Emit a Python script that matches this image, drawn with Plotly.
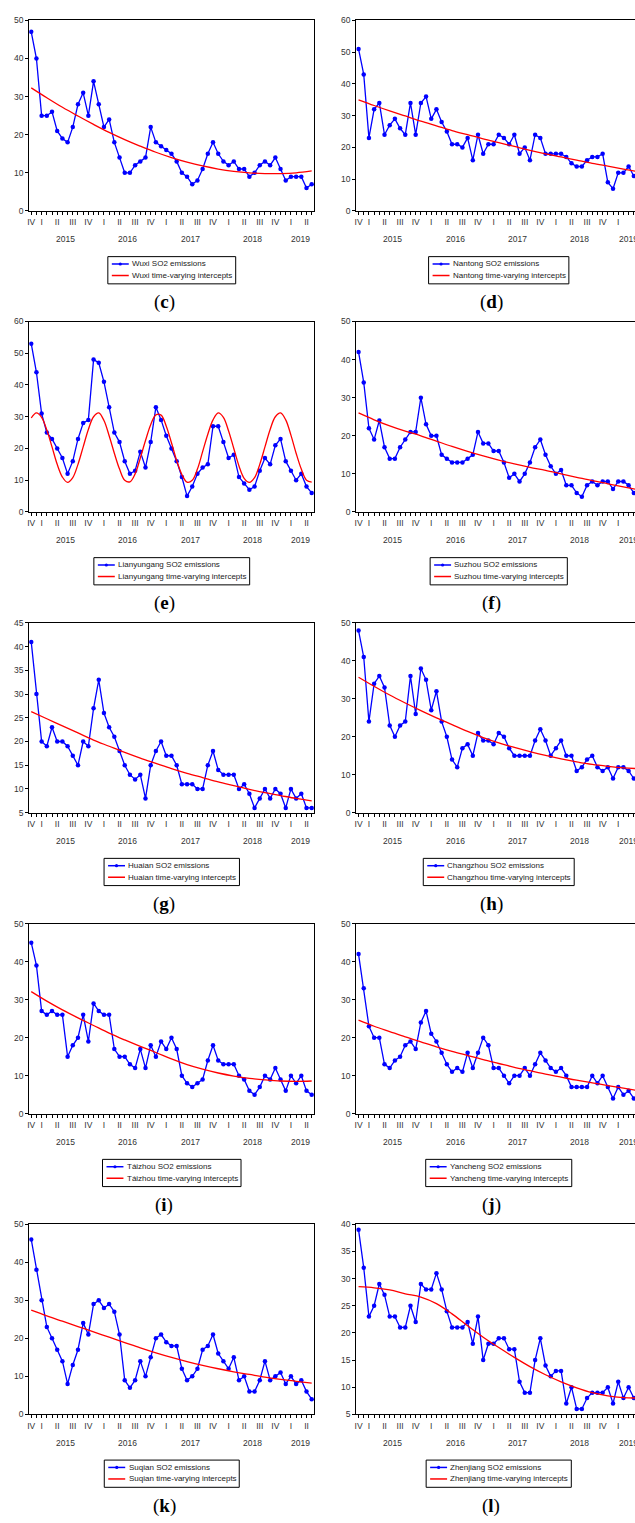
import plotly.graph_objects as go

FIG_W, FIG_H = 635, 1523

# ---------------- data ----------------
months = list(range(55))                 # Nov 2014 ... May 2019 (monthly index)
trend_months = list(range(0, 55, 3))     # points
quarter_pos = [0, 2, 5, 8, 11, 14, 17, 20, 23, 26, 29, 32, 35, 38, 41, 44, 47, 50, 53]
quarter_txt = ["IV", "I", "II", "III", "IV", "I", "II", "III", "IV", "I", "II", "III",
               "IV", "I", "II", "III", "IV", "I", "II"]
year_pos = [6.6, 18.6, 30.6, 42.6, 51.9]
year_txt = ["2015", "2016", "2017", "2018", "2019"]

city_names = ["Wuxi", "Nantong", "Lianyungang", "Suzhou", "Huaian",
              "Changzhou", "Táizhou", "Yancheng", "Suqian", "Zhenjiang"]
panel_letters = ["c", "d", "e", "f", "g", "h", "i", "j", "k", "l"]

wuxi_so2 = [47, 40, 25, 25, 26, 21, 19, 18, 22, 28, 31, 25, 34, 28, 22, 24, 18, 14, 10, 10,
            12, 13, 14, 22, 18, 17, 16, 15, 13, 10, 9, 7, 8, 11, 15, 18, 15, 13, 12, 13,
            11, 11, 9, 10, 12, 13, 12, 14, 11, 8, 9, 9, 9, 6, 7]
wuxi_trend = [32.3, 29.7, 27.2, 24.9, 22.7, 20.6, 18.7, 17.0, 15.4, 14.0, 12.8, 11.8, 11.0,
              10.4, 10.0, 9.8, 9.8, 10.0, 10.5]

nantong_so2 = [51, 43, 23, 32, 34, 24, 27, 29, 26, 24, 34, 24, 34, 36, 29, 32, 28, 25, 21, 21,
               20, 23, 16, 24, 18, 21, 21, 24, 23, 21, 24, 18, 20, 16, 24, 23, 18, 18, 18, 18,
               17, 15, 14, 14, 16, 17, 17, 18, 9, 7, 12, 12, 14, 11]
nantong_trend = [35.0, 33.2, 31.5, 29.9, 28.3, 26.8, 25.3, 24.0, 22.7, 21.5, 20.3, 19.1, 18.0,
                 17.0, 16.0, 15.0, 14.1, 13.2, 12.3]

lianyungang_so2 = [53, 44, 31, 25, 23, 20, 17, 12, 16, 23, 28, 29, 48, 47, 41, 33, 25, 22, 16, 12,
                   13, 19, 14, 22, 33, 29, 24, 20, 16, 11, 5, 8, 12, 14, 15, 27, 27, 22, 17, 18,
                   11, 9, 7, 8, 13, 17, 15, 21, 23, 16, 13, 10, 12, 8, 6]
lianyungang_trend = [29.6, 31.2, 29.8, 25.8, 20.5, 15.0, 11.0, 9.3, 10.8, 15.0, 20.5,
                     26.0, 30.0, 31.2, 28.8, 24.0, 18.5, 13.5, 10.0, 9.5, 12.0,
                     17.0, 22.5, 27.5, 30.6, 30.5, 27.0, 21.8, 16.2, 11.8, 9.4,
                     10.0, 13.5, 19.0, 24.5, 29.0, 31.2, 29.8, 25.5, 20.0, 14.5,
                     10.6, 9.3, 10.8, 15.0, 20.5, 26.0, 30.0, 31.2, 29.0, 24.2,
                     18.5, 13.5, 10.0, 9.4]

suzhou_so2 = [42, 34, 22, 19, 24, 17, 14, 14, 17, 19, 21, 21, 30, 23, 20, 20, 15, 14, 13, 13,
              13, 14, 15, 21, 18, 18, 16, 16, 13, 9, 10, 8, 10, 13, 17, 19, 15, 12, 10, 11,
              7, 7, 5, 4, 7, 8, 7, 8, 8, 6, 8, 8, 7, 5]
suzhou_trend = [26.0, 24.2, 22.6, 21.2, 20.0, 18.6, 17.2, 15.9, 14.7, 13.6, 12.6, 11.7, 10.9,
                10.0, 9.1, 8.2, 7.4, 6.6, 5.8]

huaian_so2 = [41, 30, 20, 19, 23, 20, 20, 19, 17, 15, 20, 19, 27, 33, 26, 23, 21, 18, 15, 13,
              12, 13, 8, 15, 18, 20, 17, 17, 15, 11, 11, 11, 10, 10, 15, 18, 14, 13, 13, 13,
              10, 11, 9, 6, 8, 10, 8, 10, 9, 6, 10, 8, 9, 6, 6]
huaian_trend = [26.3, 24.8, 23.3, 21.8, 20.3, 19.0, 17.7, 16.5, 15.4, 14.3, 13.3, 12.4, 11.5,
                10.7, 9.9, 9.2, 8.6, 8.0, 7.5]

changzhou_so2 = [48, 41, 24, 34, 36, 33, 23, 20, 23, 24, 36, 26, 38, 35, 27, 32, 24, 20, 14, 12,
                 17, 18, 15, 21, 19, 19, 18, 21, 20, 17, 15, 15, 15, 15, 19, 22, 19, 15, 17, 19,
                 15, 15, 11, 12, 14, 15, 12, 11, 12, 9, 12, 12, 11, 9]
changzhou_trend = [35.7, 33.3, 31.0, 28.9, 26.9, 25.0, 23.2, 21.4, 19.8, 18.4, 17.2, 16.1, 15.1,
                   14.2, 13.4, 12.7, 12.2, 11.8, 11.6]

taizhou_so2 = [45, 39, 27, 26, 27, 26, 26, 15, 18, 20, 26, 19, 29, 27, 26, 26, 17, 15, 15, 13,
               12, 17, 12, 18, 15, 19, 17, 20, 17, 10, 8, 7, 8, 9, 14, 18, 14, 13, 13, 13,
               10, 9, 6, 5, 7, 10, 9, 12, 9, 6, 10, 8, 10, 6, 5]
taizhou_trend = [32.1, 29.6, 27.3, 25.2, 23.2, 21.2, 19.4, 17.7, 16.1, 14.4, 12.9, 11.7, 10.7,
                 9.9, 9.3, 8.9, 8.6, 8.5, 8.6]

yancheng_so2 = [42, 33, 23, 20, 20, 13, 12, 14, 15, 18, 19, 17, 24, 27, 21, 19, 16, 13, 11, 12,
                11, 16, 12, 16, 20, 18, 12, 12, 10, 8, 10, 10, 12, 10, 13, 16, 14, 12, 11, 12,
                10, 7, 7, 7, 7, 10, 8, 10, 7, 4, 7, 5, 6, 4]
yancheng_trend = [24.6, 23.0, 21.6, 20.2, 18.9, 17.6, 16.4, 15.3, 14.2, 13.2, 12.2, 11.3, 10.4,
                  9.6, 8.8, 8.1, 7.4, 6.7, 6.0]

suqian_so2 = [46, 38, 30, 23, 20, 17, 14, 8, 13, 17, 24, 21, 29, 30, 28, 29, 27, 21, 9, 7,
              9, 14, 10, 15, 20, 21, 19, 18, 18, 12, 9, 10, 12, 17, 18, 21, 16, 14, 12, 15,
              9, 10, 6, 6, 9, 14, 9, 10, 11, 8, 10, 8, 9, 6, 4]
suqian_trend = [27.4, 25.9, 24.5, 23.1, 21.7, 20.3, 18.9, 17.5, 16.2, 15.0, 13.9, 12.9, 12.0,
                11.2, 10.5, 9.8, 9.2, 8.7, 8.2]

zhenjiang_so2 = [39, 32, 23, 25, 29, 27, 23, 23, 21, 21, 25, 22, 29, 28, 28, 31, 28, 24, 21, 21,
                 21, 22, 18, 23, 15, 18, 18, 19, 19, 17, 17, 11, 9, 9, 15, 19, 14, 12, 13, 13,
                 7, 10, 6, 6, 8, 9, 9, 9, 10, 7, 11, 8, 10, 8]
zhenjiang_trend = [28.5, 28.3, 27.9, 27.2, 26.6, 25.4, 23.5, 21.3, 19.2, 17.3, 15.5, 13.8, 12.3,
                   11.0, 9.9, 9.0, 8.4, 8.1, 8.0]

series_so2 = [wuxi_so2, nantong_so2, lianyungang_so2, suzhou_so2, huaian_so2,
              changzhou_so2, taizhou_so2, yancheng_so2, suqian_so2, zhenjiang_so2]
series_trend = [wuxi_trend, nantong_trend, lianyungang_trend, suzhou_trend, huaian_trend,
                changzhou_trend, taizhou_trend, yancheng_trend, suqian_trend, zhenjiang_trend]
trend_x = [trend_months, trend_months, months, trend_months, trend_months,
           trend_months, trend_months, trend_months, trend_months, trend_months]
y_ranges = [[0, 50], [0, 60], [0, 60], [0, 50], [5, 45], [0, 50], [0, 50], [0, 50], [0, 50], [5, 40]]
y_dticks = [10, 10, 10, 10, 5, 10, 10, 10, 10, 5]

# ---------------- geometry (pixels) ----------------
ROW_TOP = [15.5, 318.6, 622.0, 924.7, 1227.3]
ROW_BOT = [207.3, 510.3, 813.0, 1116.0, 1418.7]
COL_X = [(27.33, 313.33), (355.33, 635.0)]
COL_XRANGE = [(-0.384, 54.51), (-0.448, 53.23)]
COL_CENTER = [170.3, 498.3]
LABEL_X = [163.0, 491.0]

SANS = "Arial, 'Liberation Sans', sans-serif"
SERIF = "'Palatino Linotype', 'Liberation Serif', 'DejaVu Serif', serif"
BLUE = "#0000FF"
RED = "#FF0000"
TXT = "#333333"

ARIAL_W = {" ": 278, "-": 333, "2": 556, "O": 778, "S": 667, "W": 944, "N": 722, "L": 556,
           "H": 722, "C": 722, "T": 611, "Y": 667, "Z": 611, "a": 556, "á": 556, "b": 556,
           "c": 500, "d": 556, "e": 556, "g": 556, "h": 556, "i": 222, "j": 222, "k": 500,
           "l": 222, "m": 833, "n": 556, "o": 556, "p": 556, "q": 556, "r": 333, "s": 500,
           "t": 278, "u": 556, "v": 500, "w": 722, "x": 500, "y": 500, "z": 500}


def text_w(s, size):
    return sum(ARIAL_W.get(ch, 556) for ch in s) * size / 1000.0


def px(x):
    return x / FIG_W


def py(y):
    return 1 - y / FIG_H


fig = go.Figure()
layout = dict(width=FIG_W, height=FIG_H, margin=dict(l=0, r=0, t=0, b=0),
              paper_bgcolor="white", plot_bgcolor="white", showlegend=False)
shapes = []
annotations = []

for i in range(10):
    row, col = divmod(i, 2)
    n = i + 1
    xs = "" if n == 1 else str(n)
    x0, x1 = COL_X[col]
    top, bot = ROW_TOP[row], ROW_BOT[row]

    fig.add_trace(go.Scatter(
        x=months[:len(series_so2[i])], y=series_so2[i], mode="lines+markers",
        line=dict(color=BLUE, width=1.3), marker=dict(color=BLUE, size=4.5),
        name=f"{city_names[i]} SO2 emissions", xaxis="x" + xs, yaxis="y" + xs))
    fig.add_trace(go.Scatter(
        x=trend_x[i], y=series_trend[i], mode="lines",
        line=dict(color=RED, width=1.3, shape="spline"),
        name=f"{city_names[i]} time-varying intercepts", xaxis="x" + xs, yaxis="y" + xs))

    layout["xaxis" + xs] = dict(
        domain=[px(x0), px(x1)], range=list(COL_XRANGE[col]), anchor="y" + xs,
        showline=True, linecolor="black", linewidth=1, mirror=True,
        ticks="outside", ticklen=3, tickwidth=1, tickcolor="black",
        tickmode="array", tickvals=quarter_pos, ticktext=quarter_txt,
        tickfont=dict(family=SANS, size=8.5, color=TXT),
        minor=dict(tickmode="linear", tick0=0, dtick=1, ticks="outside", ticklen=3,
                   tickwidth=1, tickcolor="black", showgrid=False),
        showgrid=False, zeroline=False, fixedrange=True)
    layout["yaxis" + xs] = dict(
        domain=[py(bot), py(top)], range=y_ranges[i], anchor="x" + xs,
        tickmode="linear", tick0=y_ranges[i][0], dtick=y_dticks[i],
        showline=True, linecolor="black", linewidth=1, mirror=(col == 0),
        ticks="outside", ticklen=3, tickwidth=1, tickcolor="black",
        tickfont=dict(family=SANS, size=8.5, color=TXT),
        showgrid=False, zeroline=False, fixedrange=True)

    # year labels
    for yp, yt in zip(year_pos, year_txt):
        annotations.append(dict(x=yp, y=py(bot + 28.7), xref="x" + xs, yref="paper",
                                text=yt, showarrow=False, xanchor="center", yanchor="middle",
                                font=dict(family=SANS, size=8.5, color=TXT)))

    # legend box
    t1 = f"{city_names[i]} SO2 emissions"
    t2 = f"{city_names[i]} time-varying intercepts"
    fs = 8
    bw = 23.3 + max(text_w(t1, fs), text_w(t2, fs)) + 4.5
    bl = COL_CENTER[col] - bw / 2
    bt = bot + 46.0
    bb = bot + 73.4
    e1 = bt + 7.4
    e2 = bt + 19.0
    shapes.append(dict(type="rect", xref="paper", yref="paper", x0=px(bl), x1=px(bl + bw),
                       y0=py(bb), y1=py(bt), line=dict(color="black", width=1),
                       fillcolor="white", layer="above"))
    shapes.append(dict(type="line", xref="paper", yref="paper", x0=px(bl + 4), x1=px(bl + 21),
                       y0=py(e1), y1=py(e1), line=dict(color=BLUE, width=1.5)))
    shapes.append(dict(type="circle", xref="paper", yref="paper", x0=px(bl + 10.9),
                       x1=px(bl + 14.1), y0=py(e1 + 1.6), y1=py(e1 - 1.6),
                       line=dict(color=BLUE, width=0), fillcolor=BLUE))
    shapes.append(dict(type="line", xref="paper", yref="paper", x0=px(bl + 4), x1=px(bl + 21),
                       y0=py(e2), y1=py(e2), line=dict(color=RED, width=1.5)))
    for yy, tt in ((e1, t1), (e2, t2)):
        annotations.append(dict(x=px(bl + 22.3), y=py(yy), xref="paper", yref="paper",
                                text=tt, showarrow=False, xanchor="left", yanchor="middle",
                                font=dict(family=SANS, size=fs, color="#222222")))

    # panel label
    annotations.append(dict(x=px(LABEL_X[col]), y=py(bot + 92.0), xref="paper", yref="paper",
                            text=f"(<b>{panel_letters[i]}</b>)", showarrow=False,
                            xanchor="center", yanchor="middle",
                            font=dict(family=SERIF, size=19, color="black")))

layout["shapes"] = shapes
layout["annotations"] = annotations
fig.update_layout(**layout)
fig.write_html("out.html", config={"displayModeBar": False})
